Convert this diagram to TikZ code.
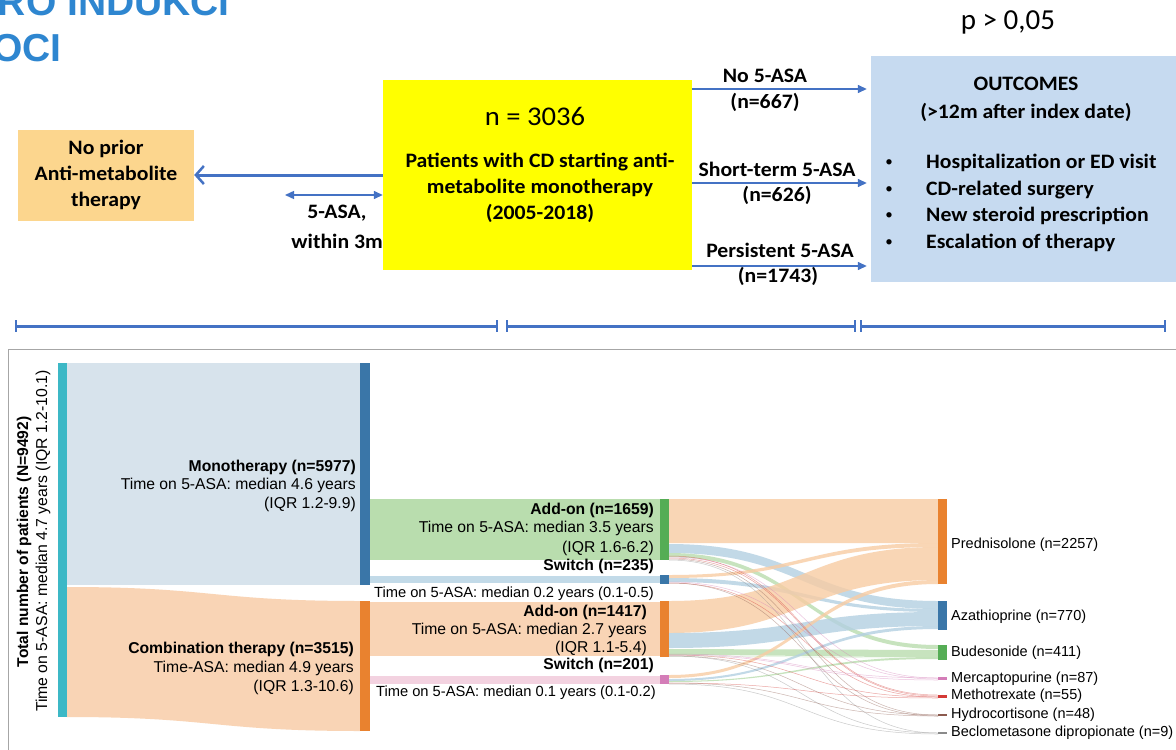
\documentclass[tikz,border=0pt]{standalone}
\usepackage{fontspec}
\setmainfont{Carlito}
\newfontfamily\arialf{Liberation Sans}
\newfontfamily\calw[FakeStretch=1.06]{Carlito}
\usetikzlibrary{arrows.meta}
\definecolor{arrowblue}{HTML}{4472C4}
\definecolor{titleblue}{HTML}{2E86D0}
\definecolor{yel}{HTML}{FFFF00}
\definecolor{goldbox}{HTML}{FCD68E}
\definecolor{outbox}{HTML}{C6DAF0}
\definecolor{tealbar}{HTML}{3CB8C6}
\definecolor{monobar}{HTML}{3A76A8}
\definecolor{orangebar}{HTML}{E9822F}
\definecolor{greenbar}{HTML}{55AD55}
\definecolor{pinkbar}{HTML}{D47DB8}
\definecolor{redbar}{HTML}{D43A36}
\definecolor{brownbar}{HTML}{8C5A4E}
\definecolor{graybar}{HTML}{8A8A8A}
\definecolor{fblue}{HTML}{B3D0E2}
\definecolor{forange}{HTML}{F8CCA3}
\definecolor{fgreen}{HTML}{B9DDAE}
\definecolor{fpink}{HTML}{F3D2E0}
\definecolor{monoflow}{HTML}{D7E3EC}
\definecolor{combflow}{HTML}{F9D4B5}
\newcommand\sflow[5]{\fill[#1, fill opacity=0.8] (669,#2) .. controls (803,#2) and (803,#4) .. (938,#4) -- (938,#5) .. controls (803,#5) and (803,#3) .. (669,#3) -- cycle;}
\newcommand\tflow[3]{\draw[#1, line width=0.5pt, opacity=0.45] (669,#2) .. controls (810,#2) and (796,#3) .. (938,#3);}
\tikzset{
  topb/.style={font=\calw\bfseries\fontsize{20.5}{26}\selectfont, align=center, inner sep=0pt},
  sk/.style={font=\arialf\fontsize{15.7}{19}\selectfont, inner sep=0pt},
  skb/.style={font=\arialf\bfseries\fontsize{15.7}{19}\selectfont, inner sep=0pt},
  lab/.style={font=\arialf\fontsize{14.5}{18}\selectfont, inner sep=0pt, anchor=west},
  bigarrow/.style={draw=arrowblue, line width=3pt, -{Straight Barb[length=8pt,width=18pt,line width=2.5pt]}},
  thinarrow/.style={draw=arrowblue, line width=1.4pt, -{Triangle[length=9pt,width=8pt]}},
  dblarrow/.style={draw=arrowblue, line width=1.4pt, {Triangle[length=9pt,width=8pt]}-{Triangle[length=9pt,width=8pt]}},
  barline/.style={draw=arrowblue, line width=3pt},
  tickline/.style={draw=arrowblue, line width=1.8pt},
}
\begin{document}
\begin{tikzpicture}[x=1pt,y=-1pt]
\useasboundingbox (0,0) rectangle (1176,750);
\fill[white] (0,0) rectangle (1176,750);
% title fragments (cut off at the edge, as in the reference)
\node[font=\arialf\bfseries\fontsize{39}{39}\selectfont, text=titleblue, anchor=base east, inner sep=0pt] (t1) at (230,15) {RO INDUKCI};
\node[font=\arialf\bfseries\fontsize{39}{39}\selectfont, text=titleblue, anchor=base east, inner sep=0pt] (t2) at (62,61) {OCI};
\node[font=\fontsize{29}{29}\selectfont, inner sep=0pt] (pv) at (1008,22) {p > 0,05};
% boxes
\node[fill=goldbox, minimum width=176pt, minimum height=91pt, topb] (np) at (106,175) {No prior\\Anti-metabolite\\therapy};
\node[fill=yel, minimum width=309pt, minimum height=190pt, inner sep=0pt] (pat) at (537.5,175) {};
\node[font=\calw\fontsize{27}{27}\selectfont, inner sep=0pt] (n) at (535,116) {n = 3036};
\node[topb] (pattxt) at (540,188) {Patients with CD starting anti-\\metabolite monotherapy\\(2005-2018)};
\node[fill=outbox, minimum width=310pt, minimum height=226pt, inner sep=0pt] (out) at (1026,169) {};
\node[topb, font=\calw\bfseries\fontsize{20.5}{28}\selectfont] (outh) at (1026,99) {OUTCOMES\\(>12m after index date)};
\foreach \yy/\tt [count=\i] in {163/Hospitalization or ED visit, 190/CD-related surgery, 216/New steroid prescription, 243/Escalation of therapy}{
  \node[inner sep=0pt, font=\fontsize{15}{15}\selectfont] (bul\i) at (889,\yy) {•};
  \node[topb, anchor=west] (item\i) at (926,\yy) {\tt};
}
% arrows top
\draw[bigarrow] (pat.west |- np.east) -- (np.east);
\coordinate (dl) at (285,195);
\draw[dblarrow] (dl) -- (pat.west |- dl);
\node[topb] (asa) at (337,213) {5-ASA,};
\node[topb, anchor=east] (w3m) at (383,241) {within 3m};
\coordinate (a1) at (692,89);
\coordinate (a2) at (692,183);
\coordinate (a3) at (692,266);
\draw[thinarrow] (a1) -- ([xshift=-4pt]out.west |- a1);
\draw[thinarrow] (a2) -- ([xshift=-4pt]out.west |- a2);
\draw[thinarrow] (a3) -- ([xshift=-4pt]out.west |- a3);
\node[topb] (l1a) at (765,76) {No 5-ASA};
\node[topb] (l1b) at (765,102) {(n=667)};
\node[topb] (l2a) at (777,169) {Short-term 5-ASA};
\node[topb] (l2b) at (777,195) {(n=626)};
\node[topb] (l3a) at (780,250) {Persistent 5-ASA};
\node[topb] (l3b) at (778,276) {(n=1743)};
% timeline bars
\foreach \a/\b in {16/497, 507/855, 861/1165}{
  \draw[barline] (\a,326) -- (\b,326);
  \draw[tickline] (\a,320) -- (\a,332);
  \draw[tickline] (\b,320) -- (\b,332);
}
% sankey frame
\draw[gray!70, line width=1pt] (8,349) rectangle (1190,760);
% first stage flows
\fill[monoflow] (67,363) rectangle (360,585);
\fill[combflow] (67,587) .. controls (213,587) and (213,601) .. (360,601) -- (360,731) .. controls (213,731) and (213,717) .. (67,717) -- cycle;
% second stage flows
\fill[fgreen] (370,499) rectangle (660,560);
\fill[fblue!80] (370,576) rectangle (660,583);
\fill[combflow] (370,602) rectangle (660,656);
\fill[fpink] (370,676) rectangle (660,684);
% third stage flows
\sflow{forange}{499}{543}{499}{543}
\sflow{fblue}{544}{553}{601}{609}
\sflow{fgreen}{553}{557}{645}{649}
\sflow{forange}{575}{578}{543}{547}
\sflow{fblue}{578}{582}{609}{612}
\sflow{forange}{601}{633}{547}{580}
\sflow{fblue}{633}{648}{612}{626}
\sflow{fgreen}{649}{655}{650}{657}
\sflow{forange}{675}{678}{580}{584}
\sflow{fblue}{679}{681}{626}{629}
\sflow{fgreen}{681}{682}{657}{659}
% thin flows
\tflow{redbar}{558}{696}
\tflow{pinkbar}{557}{678}
\tflow{brownbar}{559}{715}
\tflow{graybar}{560}{733}
\tflow{redbar}{583}{697}
\tflow{pinkbar}{582}{679}
\tflow{brownbar}{583}{716}
\tflow{redbar}{655}{697}
\tflow{pinkbar}{655}{680}
\tflow{brownbar}{656}{715}
\tflow{graybar}{656}{733}
\tflow{redbar}{683}{698}
\tflow{brownbar}{683}{716}
\tflow{graybar}{684}{734}
\tflow{fgreen}{656}{658}
\tflow{redbar}{556}{695}
\tflow{pinkbar}{654}{678}
% bars
\fill[tealbar] (58,363) rectangle (67,717);
\fill[monobar] (360,363) rectangle (370,585);
\fill[orangebar] (360,601) rectangle (370,731);
\fill[greenbar] (660,499) rectangle (669,560);
\fill[monobar] (660,575) rectangle (669,584);
\fill[orangebar] (660,601) rectangle (669,657);
\fill[pinkbar] (660,675) rectangle (669,684);
\fill[orangebar] (938,499) rectangle (947,584);
\fill[monobar] (938,601) rectangle (947,630);
\fill[greenbar] (938,645) rectangle (947,660);
\fill[pinkbar] (938,677) rectangle (947,680);
\fill[redbar] (938,695) rectangle (947,698);
\fill[brownbar] (938,714) rectangle (947,716);
\fill[graybar] (938,732) rectangle (947,734);
% vertical labels
\node[skb, rotate=90, font=\arialf\bfseries\fontsize{15.6}{19}\selectfont] (vt1) at (24,542) {Total number of patients (N=9492)};
\node[sk, rotate=90, font=\arialf\fontsize{15.8}{19}\selectfont] (vt2) at (43,541) {Time on 5-ASA: median 4.7 years (IQR 1.2-10.1)};
% first stage labels
\node[skb, anchor=east] (m1) at (356,467) {Monotherapy (n=5977)};
\node[sk, anchor=east] (m2) at (356,485) {Time on 5-ASA: median 4.6 years};
\node[sk, anchor=east] (m3) at (356,504) {(IQR 1.2-9.9)};
\node[skb, anchor=east] (c1) at (354,649) {Combination therapy (n=3515)};
\node[sk, anchor=east] (c2) at (354,668) {Time-ASA: median 4.9 years};
\node[sk, anchor=east] (c3) at (354,687) {(IQR 1.3-10.6)};
% second stage labels
\node[skb, anchor=east] (ad1) at (654,510) {Add-on (n=1659)};
\node[sk, anchor=east] (ad2) at (654,528) {Time on 5-ASA: median 3.5 years};
\node[sk, anchor=east] (ad3) at (654,548) {(IQR 1.6-6.2)};
\node[skb, anchor=east] (sw1) at (654,566) {Switch (n=235)};
\node[sk, anchor=east, font=\arialf\fontsize{14.7}{18}\selectfont] (sw2) at (654,594) {Time on 5-ASA: median 0.2 years (0.1-0.5)};
\node[skb, anchor=east] (ab1) at (647,612) {Add-on (n=1417)};
\node[sk, anchor=east] (ab2) at (647,630) {Time on 5-ASA: median 2.7 years};
\node[sk, anchor=east] (ab3) at (647,648) {(IQR 1.1-5.4)};
\node[skb, anchor=east] (sb1) at (654,665) {Switch (n=201)};
\node[sk, anchor=east, font=\arialf\fontsize{14.7}{18}\selectfont] (sb2) at (656,693) {Time on 5-ASA: median 0.1 years (0.1-0.2)};
% right labels
\node[lab] (r1) at (951,545) {Prednisolone (n=2257)};
\node[lab] (r2) at (951,617) {Azathioprine (n=770)};
\node[lab] (r3) at (951,653) {Budesonide (n=411)};
\node[lab] (r4) at (951,679) {Mercaptopurine (n=87)};
\node[lab] (r5) at (951,696) {Methotrexate (n=55)};
\node[lab] (r6) at (951,715) {Hydrocortisone (n=48)};
\node[lab] (r7) at (951,733) {Beclometasone dipropionate (n=9)};
\end{tikzpicture}
\end{document}
